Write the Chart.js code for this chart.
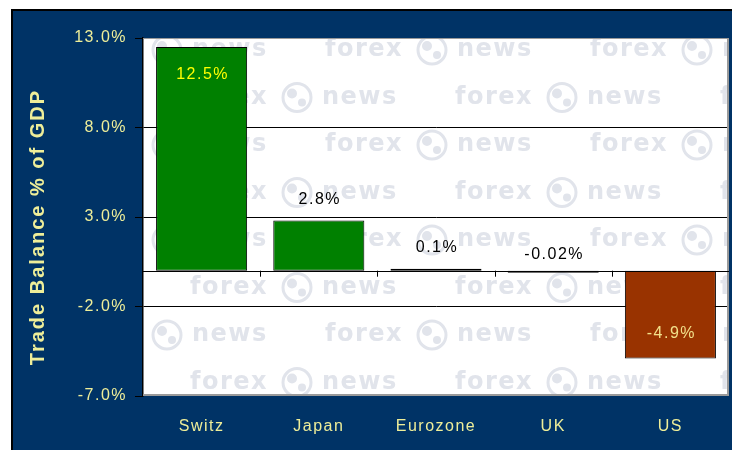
<!DOCTYPE html>
<html>
<head>
<meta charset="utf-8">
<script src="https://cdn.jsdelivr.net/npm/chart.js@4/dist/chart.umd.min.js"></script>
<style>
  html, body { margin: 0; padding: 0; background: #ffffff; }
  #wrap { width: 732px; height: 450px; position: relative; }
</style>
</head>
<body>
<div id="wrap"><canvas id="c" width="732" height="450"></canvas></div>
<script>
// ---- data ----
const categories = ['Switz', 'Japan', 'Eurozone', 'UK', 'US'];
const balances = [12.5, 2.8, 0.1, -0.02, -4.9];
const valueLabels = ['12.5%', '2.8%', '0.1%', '-0.02%', '-4.9%'];
const tickValues = [-7, -2, 3, 8, 13];
const axisTitle = 'Trade Balance % of GDP';

// ---- styles ----
const NAVY = '#003366';
const AXIS_TEXT = '#eeee99';
const GREEN = '#008000';
const BROWN = '#993300';
const WM = '#e1e4eb';
const FONT = '"Liberation Sans", Arial, sans-serif';

const backgroundPlugin = {
  id: 'bg',
  beforeDraw(chart) {
    const ctx = chart.ctx;
    const a = chart.chartArea;
    ctx.save();
    ctx.fillStyle = '#ffffff';
    ctx.fillRect(0, 0, chart.width, chart.height);
    ctx.fillStyle = '#000000';
    ctx.fillRect(11, 9, chart.width - 11, chart.height - 9);
    ctx.fillStyle = NAVY;
    ctx.fillRect(13, 11, chart.width - 13, chart.height - 11);
    ctx.fillStyle = '#ffffff';
    ctx.fillRect(a.left, a.top, a.right - a.left, a.bottom - a.top);

    // watermark
    ctx.beginPath();
    ctx.rect(a.left, a.top, a.right - a.left, a.bottom - a.top);
    ctx.clip();
    ctx.font = 'bold 24px "DejaVu Sans"';
    ctx.letterSpacing = '1.5px';
    ctx.textBaseline = 'middle';
    ctx.textAlign = 'left';
    ctx.fillStyle = WM;
    ctx.strokeStyle = WM;
    for (let r = 0; r < 8; r++) {
      const y = 50 + r * 47.5;
      const phase = r % 2 === 0 ? 60 : 190;
      for (let x0 = phase - 265; x0 < chart.width; x0 += 265) {
        ctx.fillText('forex', x0, y);
        ctx.lineWidth = 3;
        ctx.beginPath();
        ctx.arc(x0 + 107, y, 14, 0, Math.PI * 2);
        ctx.stroke();
        ctx.beginPath();
        ctx.arc(x0 + 102, y - 4, 5, 0, Math.PI * 2);
        ctx.arc(x0 + 112, y + 5, 4, 0, Math.PI * 2);
        ctx.fill();
        ctx.fillText('news', x0 + 132, y);
      }
    }
    ctx.restore();

    // y axis title
    ctx.save();
    ctx.translate(38, 227);
    ctx.rotate(-Math.PI / 2);
    ctx.font = 'bold 20px ' + FONT;
    ctx.letterSpacing = '2px';
    ctx.fillStyle = AXIS_TEXT;
    ctx.textAlign = 'center';
    ctx.textBaseline = 'middle';
    ctx.fillText(axisTitle, 0, 0);
    ctx.restore();

    // letter spacing for library-drawn tick labels
    ctx.letterSpacing = '1.5px';
  },
  afterDatasetsDraw(chart) {
    const ctx = chart.ctx;
    const a = chart.chartArea;
    const x = chart.scales.x;
    const y = chart.scales.y;
    const y0 = y.getPixelForValue(0);
    ctx.save();
    ctx.letterSpacing = '0px';
    // plot border (top/right/bottom gray)
    ctx.strokeStyle = '#9a9a9a';
    ctx.lineWidth = 1;
    ctx.beginPath();
    ctx.moveTo(a.left, a.top + 0.5);
    ctx.lineTo(a.right, a.top + 0.5);
    ctx.stroke();
    ctx.lineWidth = 2;
    ctx.beginPath();
    ctx.moveTo(a.right - 1, a.top);
    ctx.lineTo(a.right - 1, a.bottom);
    ctx.moveTo(a.left, a.bottom - 1);
    ctx.lineTo(a.right, a.bottom - 1);
    ctx.stroke();
    // zero line and category tick marks
    ctx.strokeStyle = '#000000';
    ctx.lineWidth = 1;
    ctx.beginPath();
    ctx.moveTo(a.left, Math.round(y0) + 0.5);
    ctx.lineTo(a.right, Math.round(y0) + 0.5);
    for (let i = 1; i < categories.length; i++) {
      const bx = Math.round((x.getPixelForValue(i - 1) + x.getPixelForValue(i)) / 2) + 0.5;
      ctx.moveTo(bx, y0);
      ctx.lineTo(bx, y0 + 6);
    }
    ctx.stroke();

    // value labels
    const meta = chart.getDatasetMeta(0);
    ctx.font = '16px ' + FONT;
    ctx.letterSpacing = '1.5px';
    ctx.textAlign = 'center';
    ctx.textBaseline = 'middle';
    meta.data.forEach((bar, i) => {
      const v = balances[i];
      const top = Math.min(bar.y, bar.base);
      const bottom = Math.max(bar.y, bar.base);
      let ly, color;
      if (v > 5) { ly = top + 28; color = '#ffff00'; }
      else if (v < -2) { ly = bottom - 25; color = '#f2e08a'; }
      else if (v >= 0) { ly = top - 21; color = '#000000'; }
      else { ly = y0 - 16; color = '#000000'; }
      ctx.fillStyle = color;
      ctx.fillText(valueLabels[i], bar.x + 1, ly);
    });
    ctx.restore();
  }
};

new Chart(document.getElementById('c'), {
  type: 'bar',
  data: {
    labels: categories,
    datasets: [{
      data: balances,
      backgroundColor: balances.map(v => v >= 0 ? GREEN : BROWN),
      borderColor: '#000000',
      borderWidth: 1,
      borderSkipped: false,
      minBarLength: 2,
      barPercentage: 0.777,
      categoryPercentage: 1.0
    }]
  },
  options: {
    responsive: false,
    devicePixelRatio: 1,
    animation: false,
    layout: { padding: { top: 38, right: 3, left: 0, bottom: 0 } },
    plugins: { legend: { display: false }, tooltip: { enabled: false } },
    scales: {
      x: {
        grid: { display: false, drawTicks: false },
        border: { display: false },
        ticks: {
          color: AXIS_TEXT,
          font: { family: FONT, size: 16 },
          padding: 21,
          maxRotation: 0
        },
        afterFit(s) { s.height = 54; }
      },
      y: {
        min: -7,
        max: 13,
        afterBuildTicks(s) { s.ticks = tickValues.map(v => ({ value: v })); },
        grid: {
          color: (c) => (c.tick && (c.tick.value === 13 || c.tick.value === -7)) ? 'rgba(0,0,0,0)' : '#000000',
          tickColor: '#000000',
          tickLength: 8,
          lineWidth: 1
        },
        border: { display: true, color: '#000000', width: 1.5 },
        ticks: {
          color: AXIS_TEXT,
          font: { family: FONT, size: 16 },
          padding: 8,
          callback: (v) => v.toFixed(1) + '%'
        },
        afterFit(s) { s.width = 143; }
      }
    }
  },
  plugins: [backgroundPlugin]
});
</script>
</body>
</html>
